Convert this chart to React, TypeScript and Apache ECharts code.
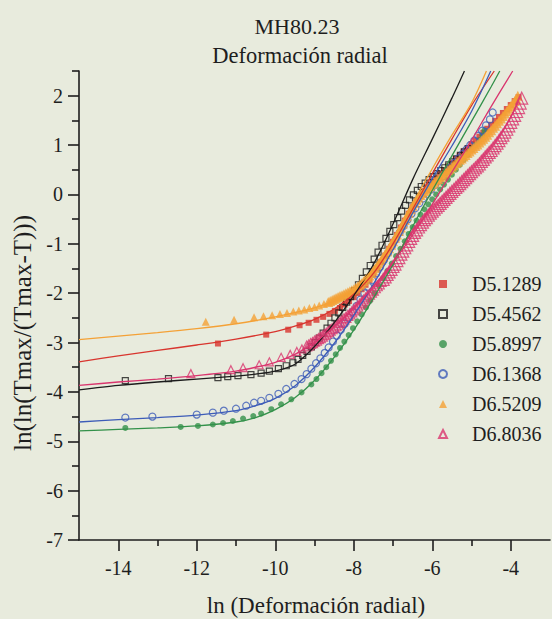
import React, { useEffect, useRef } from "react";
import * as echarts from "echarts";

// Series names (legend order)
const seriesNames = ["D5.1289", "D5.4562", "D5.8997", "D6.1368", "D6.5209", "D6.8036"];

// Axis ticks
const xMajorTicks = [-14, -12, -10, -8, -6, -4];
const xMinorTicks = [-13, -11, -9, -7, -5];
const yMajorTicks = [-7, -6, -5, -4, -3, -2, -1, 0, 1, 2];
const yMinorTicks = [-6.5, -5.5, -4.5, -3.5, -2.5, -1.5, -0.5, 0.5, 1.5, 2.5];

// Measured points [ln(deformación), ln(ln(Tmax/(Tmax-T)))]
const dataD51289 = [
  [-11.46, -3.02], [-10.23, -2.84], [-9.67, -2.74], [-9.38, -2.65], [-9.15, -2.6], [-8.95, -2.54],
  [-8.78, -2.48], [-8.62, -2.42], [-8.48, -2.36], [-8.35, -2.3], [-8.23, -2.23], [-8.12, -2.16],
  [-8.0, -2.08], [-7.9, -2.0], [-7.8, -1.92], [-7.7, -1.83], [-7.6, -1.73], [-7.5, -1.62],
  [-7.4, -1.5], [-7.3, -1.37], [-7.2, -1.24], [-7.1, -1.1], [-7.0, -0.96], [-6.9, -0.82],
  [-6.8, -0.67], [-6.7, -0.53], [-6.6, -0.39], [-6.5, -0.26], [-6.4, -0.14], [-6.3, -0.03],
  [-6.2, 0.07], [-6.1, 0.16], [-6.0, 0.25], [-5.9, 0.33], [-5.8, 0.41], [-5.7, 0.49],
  [-5.6, 0.57], [-5.5, 0.64], [-5.4, 0.72], [-5.3, 0.79], [-5.2, 0.87], [-5.1, 0.94],
  [-5.0, 1.02], [-4.9, 1.09], [-4.8, 1.17], [-4.7, 1.25], [-4.6, 1.33], [-4.5, 1.41],
  [-4.4, 1.49], [-4.3, 1.57], [-4.2, 1.65], [-4.1, 1.73], [-4.0, 1.81], [-3.9, 1.89], [-3.8, 1.97],
];
const dataD54562 = [
  [-13.82, -3.77], [-12.72, -3.73], [-11.46, -3.71], [-11.21, -3.69], [-10.95, -3.67], [-10.62, -3.65],
  [-10.36, -3.62], [-10.15, -3.58], [-9.92, -3.53], [-9.72, -3.47], [-9.55, -3.41], [-9.42, -3.34],
  [-9.3, -3.26], [-9.19, -3.18], [-9.08, -3.09], [-8.98, -3.0], [-8.88, -2.91], [-8.78, -2.81],
  [-8.68, -2.71], [-8.58, -2.61], [-8.48, -2.5], [-8.38, -2.4], [-8.28, -2.29], [-8.18, -2.18],
  [-8.08, -2.07], [-7.98, -1.95], [-7.88, -1.83], [-7.78, -1.7], [-7.68, -1.57], [-7.58, -1.44],
  [-7.48, -1.31], [-7.38, -1.17], [-7.28, -1.03], [-7.18, -0.89], [-7.08, -0.75], [-6.98, -0.61],
  [-6.88, -0.47], [-6.78, -0.34], [-6.68, -0.22], [-6.58, -0.11], [-6.48, -0.01], [-6.38, 0.08],
  [-6.28, 0.16], [-6.18, 0.23], [-6.08, 0.3], [-5.98, 0.36], [-5.88, 0.42], [-5.78, 0.48],
  [-5.68, 0.54], [-5.58, 0.6], [-5.48, 0.66], [-5.38, 0.72], [-5.28, 0.79], [-5.18, 0.86], [-5.08, 0.93],
];
const dataD58997 = [
  [-13.82, -4.73], [-12.41, -4.71], [-11.97, -4.69], [-11.59, -4.66], [-11.33, -4.63], [-11.08, -4.59],
  [-10.82, -4.54], [-10.56, -4.49], [-10.36, -4.44], [-10.1, -4.35], [-9.85, -4.25], [-9.59, -4.15],
  [-9.33, -4.01], [-9.08, -3.85], [-8.95, -3.74], [-8.82, -3.62], [-8.7, -3.5], [-8.58, -3.37],
  [-8.46, -3.24], [-8.35, -3.11], [-8.24, -2.98], [-8.13, -2.85], [-8.02, -2.71], [-7.91, -2.57],
  [-7.8, -2.43], [-7.69, -2.29], [-7.58, -2.15], [-7.47, -2.0], [-7.36, -1.85], [-7.25, -1.7],
  [-7.14, -1.55], [-7.03, -1.4], [-6.92, -1.25], [-6.81, -1.1], [-6.7, -0.95], [-6.6, -0.8],
  [-6.5, -0.66], [-6.4, -0.53], [-6.3, -0.41], [-6.2, -0.3], [-6.1, -0.2], [-6.0, -0.1],
  [-5.9, 0.0], [-5.8, 0.1], [-5.7, 0.2], [-5.6, 0.3], [-5.5, 0.4], [-5.4, 0.5], [-5.3, 0.6],
  [-5.2, 0.7], [-5.1, 0.8], [-5.0, 0.9], [-4.9, 1.0], [-4.8, 1.1], [-4.72, 1.2], [-4.67, 1.3],
];
const dataD61368 = [
  [-13.82, -4.52], [-13.13, -4.5], [-12.0, -4.46], [-11.59, -4.42], [-11.31, -4.38], [-11.0, -4.34],
  [-10.74, -4.28], [-10.54, -4.22], [-10.36, -4.18], [-10.15, -4.12], [-9.92, -4.04], [-9.72, -3.94],
  [-9.51, -3.84], [-9.33, -3.74], [-9.2, -3.64], [-9.08, -3.53], [-8.96, -3.42], [-8.85, -3.32],
  [-8.74, -3.21], [-8.64, -3.1], [-8.53, -2.98], [-8.43, -2.86], [-8.33, -2.74], [-8.23, -2.62],
  [-8.13, -2.5], [-8.03, -2.38], [-7.93, -2.26], [-7.83, -2.13], [-7.73, -2.0], [-7.63, -1.87],
  [-7.53, -1.74], [-7.43, -1.6], [-7.33, -1.47], [-7.23, -1.33], [-7.13, -1.19], [-7.03, -1.05],
  [-6.93, -0.91], [-6.83, -0.77], [-6.73, -0.64], [-6.63, -0.51], [-6.53, -0.39], [-6.43, -0.28],
  [-6.33, -0.18], [-6.23, -0.08], [-6.13, 0.01], [-6.03, 0.1], [-5.93, 0.19], [-5.83, 0.28],
  [-5.73, 0.37], [-5.63, 0.46], [-5.53, 0.55], [-5.43, 0.64], [-5.33, 0.73], [-5.23, 0.82],
  [-5.13, 0.91], [-5.03, 1.0], [-4.93, 1.09], [-4.83, 1.19], [-4.73, 1.29], [-4.63, 1.4],
  [-4.53, 1.52], [-4.46, 1.66],
];
const dataD65209 = [
  [-11.77, -2.58], [-11.05, -2.54], [-10.54, -2.49], [-10.3, -2.47], [-10.08, -2.45], [-9.88, -2.42],
  [-9.7, -2.4], [-9.54, -2.37], [-9.4, -2.35], [-9.26, -2.33], [-9.13, -2.3], [-9.0, -2.28],
  [-8.88, -2.25], [-8.76, -2.22], [-8.65, -2.18],
  [-8.6, -2.16], [-8.55, -2.14], [-8.5, -2.12], [-8.45, -2.1], [-8.4, -2.08], [-8.35, -2.06],
  [-8.3, -2.04], [-8.25, -2.02], [-8.2, -2.0], [-8.15, -1.98], [-8.1, -1.96], [-8.05, -1.94],
  [-8.0, -1.92], [-7.95, -1.89], [-7.9, -1.86], [-7.85, -1.83], [-7.8, -1.8], [-7.75, -1.76],
  [-7.7, -1.72], [-7.65, -1.68], [-7.6, -1.64], [-7.55, -1.59], [-7.5, -1.54], [-7.45, -1.49],
  [-7.4, -1.44], [-7.35, -1.39], [-7.3, -1.33], [-7.25, -1.27], [-7.2, -1.21], [-7.15, -1.15],
  [-7.1, -1.09], [-7.05, -1.02], [-7.0, -0.95], [-6.95, -0.88], [-6.9, -0.81], [-6.85, -0.74],
  [-6.8, -0.67], [-6.75, -0.59], [-6.7, -0.52], [-6.65, -0.44], [-6.6, -0.37], [-6.55, -0.3],
  [-6.5, -0.23], [-6.45, -0.17], [-6.4, -0.11], [-6.35, -0.06], [-6.3, -0.01], [-6.25, 0.03],
  [-6.2, 0.07], [-6.15, 0.1], [-6.1, 0.14], [-6.05, 0.17], [-6.0, 0.21], [-5.95, 0.24],
  [-5.9, 0.28], [-5.85, 0.31], [-5.8, 0.35], [-5.75, 0.38], [-5.7, 0.42], [-5.65, 0.45],
  [-5.6, 0.49], [-5.55, 0.52], [-5.5, 0.56], [-5.45, 0.59], [-5.4, 0.63], [-5.35, 0.66],
  [-5.3, 0.7], [-5.25, 0.73], [-5.2, 0.77], [-5.15, 0.8], [-5.1, 0.84], [-5.05, 0.87],
  [-5.0, 0.91], [-4.95, 0.94], [-4.9, 0.98], [-4.85, 1.01], [-4.8, 1.05], [-4.75, 1.09],
  [-4.7, 1.13], [-4.65, 1.17], [-4.6, 1.21], [-4.55, 1.26], [-4.5, 1.3], [-4.45, 1.35],
  [-4.4, 1.39], [-4.35, 1.44], [-4.3, 1.49], [-4.25, 1.54], [-4.2, 1.59], [-4.15, 1.64],
  [-4.1, 1.69], [-4.05, 1.74], [-4.0, 1.79], [-3.95, 1.84], [-3.9, 1.89], [-3.86, 1.94], [-3.82, 2.0],
];
const dataD68036 = [
  [-12.15, -3.63], [-11.13, -3.55], [-10.82, -3.51], [-10.41, -3.45], [-10.15, -3.39], [-9.85, -3.3],
  [-9.62, -3.24], [-9.45, -3.18], [-9.32, -3.13],
  [-9.2, -3.07], [-9.15, -3.05], [-9.1, -3.02], [-9.05, -3.0], [-9.0, -2.97], [-8.95, -2.95],
  [-8.9, -2.92], [-8.85, -2.9], [-8.8, -2.87], [-8.75, -2.84], [-8.7, -2.81], [-8.65, -2.78],
  [-8.6, -2.75], [-8.55, -2.72], [-8.5, -2.69], [-8.45, -2.66], [-8.4, -2.63], [-8.35, -2.59],
  [-8.3, -2.56], [-8.25, -2.52], [-8.2, -2.49], [-8.15, -2.45], [-8.1, -2.42], [-8.05, -2.38],
  [-8.0, -2.34], [-7.95, -2.3], [-7.9, -2.26], [-7.85, -2.22], [-7.8, -2.18], [-7.75, -2.14],
  [-7.7, -2.1], [-7.65, -2.06], [-7.6, -2.02], [-7.55, -1.98], [-7.5, -1.94], [-7.45, -1.89],
  [-7.4, -1.85], [-7.35, -1.81], [-7.3, -1.76], [-7.25, -1.72], [-7.2, -1.67], [-7.15, -1.62],
  [-7.1, -1.57], [-7.05, -1.52], [-7.0, -1.46], [-6.95, -1.41], [-6.9, -1.34], [-6.85, -1.28],
  [-6.8, -1.21], [-6.75, -1.15], [-6.7, -1.08], [-6.65, -1.02], [-6.6, -0.95], [-6.55, -0.89],
  [-6.5, -0.83], [-6.45, -0.77], [-6.4, -0.72], [-6.35, -0.66], [-6.3, -0.61], [-6.25, -0.56],
  [-6.2, -0.51], [-6.15, -0.47], [-6.1, -0.42], [-6.05, -0.38], [-6.0, -0.34], [-5.95, -0.3],
  [-5.9, -0.26], [-5.85, -0.22], [-5.8, -0.18], [-5.75, -0.14], [-5.7, -0.1], [-5.65, -0.06],
  [-5.6, -0.02], [-5.55, 0.02], [-5.5, 0.06], [-5.45, 0.1], [-5.4, 0.14], [-5.35, 0.18],
  [-5.3, 0.22], [-5.25, 0.26], [-5.2, 0.3], [-5.15, 0.34], [-5.1, 0.38], [-5.05, 0.42],
  [-5.0, 0.46], [-4.95, 0.5], [-4.9, 0.54], [-4.85, 0.58], [-4.8, 0.62], [-4.75, 0.67],
  [-4.7, 0.71], [-4.65, 0.76], [-4.6, 0.8], [-4.55, 0.85], [-4.5, 0.89], [-4.45, 0.94],
  [-4.4, 0.99], [-4.35, 1.04], [-4.3, 1.09], [-4.25, 1.15], [-4.2, 1.2], [-4.15, 1.26],
  [-4.1, 1.32], [-4.05, 1.39], [-4.0, 1.46], [-3.95, 1.53], [-3.9, 1.6], [-3.85, 1.68],
  [-3.8, 1.76], [-3.76, 1.85], [-3.72, 1.95],
];

// Fitted curves
const fitD51289 = [
  [-15, -3.39], [-14, -3.27], [-13, -3.16], [-12, -3.05], [-11, -2.93], [-10, -2.78], [-9.5, -2.67],
  [-9, -2.53], [-8.5, -2.32], [-8, -2.02], [-7.5, -1.6], [-7, -1.0], [-6.5, -0.3], [-6, 0.42],
  [-5.5, 1.12], [-5, 1.8], [-4.42, 2.5],
];
const fitD54562 = [
  [-15, -3.96], [-14, -3.87], [-13, -3.8], [-12, -3.74], [-11, -3.68], [-10.5, -3.64], [-10, -3.58],
  [-9.5, -3.44], [-9, -3.08], [-8.5, -2.6], [-8, -2.05], [-7.5, -1.42], [-7, -0.6], [-6.5, 0.3],
  [-6, 1.12], [-5.5, 1.95], [-5.18, 2.5],
];
const fitD58997 = [
  [-15, -4.79], [-14, -4.76], [-13, -4.73], [-12, -4.69], [-11, -4.61], [-10.5, -4.52], [-10, -4.36],
  [-9.5, -4.12], [-9, -3.77], [-8.5, -3.3], [-8, -2.75], [-7.5, -2.1], [-7, -1.42], [-6.5, -0.65],
  [-6, 0.08], [-5.5, 0.78], [-5, 1.48], [-4.5, 2.18], [-4.28, 2.5],
];
const fitD61368 = [
  [-15, -4.61], [-14, -4.56], [-13, -4.52], [-12, -4.47], [-11, -4.38], [-10.5, -4.28], [-10, -4.13],
  [-9.5, -3.88], [-9, -3.5], [-8.5, -3.02], [-8, -2.45], [-7.5, -1.82], [-7, -1.12], [-6.5, -0.38],
  [-6, 0.32], [-5.5, 0.98], [-5, 1.68], [-4.51, 2.5],
];
const fitD65209 = [
  [-15, -2.94], [-14, -2.87], [-13, -2.8], [-12, -2.72], [-11, -2.62], [-10, -2.48], [-9, -2.3],
  [-8.5, -2.15], [-8, -1.92], [-7.5, -1.5], [-7, -0.9], [-6.5, -0.18], [-6, 0.52], [-5.5, 1.2],
  [-5, 1.85], [-4.62, 2.5],
];
const fitD68036 = [
  [-15, -3.87], [-14, -3.8], [-13, -3.74], [-12, -3.67], [-11, -3.58], [-10.5, -3.5], [-10, -3.4],
  [-9.5, -3.24], [-9, -3.0], [-8.5, -2.68], [-8, -2.3], [-7.5, -1.86], [-7, -1.38], [-6.5, -0.82],
  [-6, -0.2], [-5.5, 0.45], [-5, 1.1], [-4.5, 1.78], [-3.95, 2.5],
];

const BG = "#e8ebdd";
const INK = "#1e1e1e";
const FONT = "'Liberation Serif', 'Times New Roman', serif";

type Style = {
  color: string;
  symbol: string;
  size: (v: number[]) => number;
  hollow: boolean;
};
const styles: Style[] = [
  { color: "#d8352e", symbol: "rect", size: () => 6, hollow: false },
  { color: "#1c1c1c", symbol: "rect", size: () => 6, hollow: true },
  { color: "#33914a", symbol: "circle", size: () => 6, hollow: false },
  { color: "#3d5cb8", symbol: "circle", size: () => 7, hollow: true },
  { color: "#f4a136", symbol: "triangle", size: (v) => (v[0] > -8.7 ? 10 : 8), hollow: false },
  { color: "#d9356e", symbol: "triangle", size: (v) => (v[0] > -7.3 ? 12 : v[0] > -9.25 ? 10 : 8), hollow: true },
];
const measured = [dataD51289, dataD54562, dataD58997, dataD61368, dataD65209, dataD68036];
const fitted = [fitD51289, fitD54562, fitD58997, fitD61368, fitD65209, fitD68036];

export default function App() {
  const ref = useRef<HTMLDivElement>(null);

  useEffect(() => {
    if (!ref.current) return;
    const chart = echarts.init(ref.current, undefined, { renderer: "svg" });

    const scatterSeries = seriesNames.map((name, i) => {
      const s = styles[i];
      return {
        name,
        type: "scatter",
        xAxisIndex: 0,
        yAxisIndex: 0,
        data: measured[i],
        symbol: s.symbol,
        symbolSize: s.size,
        z: 2,
        itemStyle: s.hollow
          ? { color: "rgba(0,0,0,0)", borderColor: s.color, borderWidth: 1.2 }
          : { color: s.color, borderWidth: 0 },
      };
    });
    const lineSeries = seriesNames.map((name, i) => ({
      name: name + " ajuste",
      type: "line",
      xAxisIndex: 0,
      yAxisIndex: 0,
      data: fitted[i],
      smooth: 0.3,
      showSymbol: false,
      symbol: "none",
      clip: true,
      z: 3,
      lineStyle: { color: styles[i].color, width: 1.3 },
    }));

    const tickLabel = { fontFamily: FONT, fontSize: 20, color: INK };

    chart.setOption({
      animation: false,
      backgroundColor: BG,
      grid: { left: 79, right: 2, top: 71, bottom: 79, containLabel: false },
      xAxis: [
        {
          type: "value",
          min: -15,
          max: -3,
          position: "bottom",
          axisLine: { show: true, onZero: false, lineStyle: { color: INK, width: 1.6 } },
          axisTick: { show: true, length: 11, customValues: xMajorTicks, lineStyle: { color: INK, width: 1.6 } },
          axisLabel: { show: true, customValues: xMajorTicks, margin: 18, ...tickLabel },
          splitLine: { show: false },
        },
        {
          type: "value",
          min: -15,
          max: -3,
          position: "bottom",
          axisLine: { show: false, onZero: false },
          axisTick: { show: true, length: 6, customValues: xMinorTicks, lineStyle: { color: INK, width: 1.6 } },
          axisLabel: { show: false },
          splitLine: { show: false },
        },
      ],
      yAxis: [
        {
          type: "value",
          min: -7,
          max: 2.5,
          position: "left",
          axisLine: { show: true, onZero: false, lineStyle: { color: INK, width: 1.6 } },
          axisTick: { show: true, length: 11, customValues: yMajorTicks, lineStyle: { color: INK, width: 1.6 } },
          axisLabel: { show: true, customValues: yMajorTicks, margin: 16, ...tickLabel },
          splitLine: { show: false },
        },
        {
          type: "value",
          min: -7,
          max: 2.5,
          position: "left",
          axisLine: { show: false, onZero: false },
          axisTick: { show: true, length: 7, customValues: yMinorTicks, lineStyle: { color: INK, width: 1.6 } },
          axisLabel: { show: false },
          splitLine: { show: false },
        },
      ],
      legend: {
        data: seriesNames,
        orient: "vertical",
        left: 433,
        top: 269,
        itemWidth: 8,
        itemHeight: 8,
        itemGap: 10,
        textStyle: { fontFamily: FONT, fontSize: 20, color: INK, lineHeight: 20, padding: [0, 0, 0, 20] },
      },
      graphic: [
        {
          type: "text",
          x: 297,
          y: 26,
          style: { text: "MH80.23", font: `22px ${FONT}`, fill: INK, align: "center", verticalAlign: "middle" },
        },
        {
          type: "text",
          x: 300,
          y: 55,
          style: { text: "Deformación radial", font: `22.5px ${FONT}`, fill: INK, align: "center", verticalAlign: "middle" },
        },
        {
          type: "text",
          x: 316,
          y: 605,
          style: { text: "ln (Deformación radial)", font: `23px ${FONT}`, fill: INK, align: "center", verticalAlign: "middle" },
        },
        {
          type: "text",
          x: 22,
          y: 333,
          rotation: Math.PI / 2,
          style: { text: "ln(ln(Tmax/(Tmax-T)))", font: `25px ${FONT}`, fill: INK, align: "center", verticalAlign: "middle" },
        },
      ],
      series: [...scatterSeries, ...lineSeries],
    });

    return () => chart.dispose();
  }, []);

  return (
    <div
      ref={ref}
      style={{ position: "fixed", left: 0, top: 0, width: 552, height: 619, background: BG }}
    />
  );
}
